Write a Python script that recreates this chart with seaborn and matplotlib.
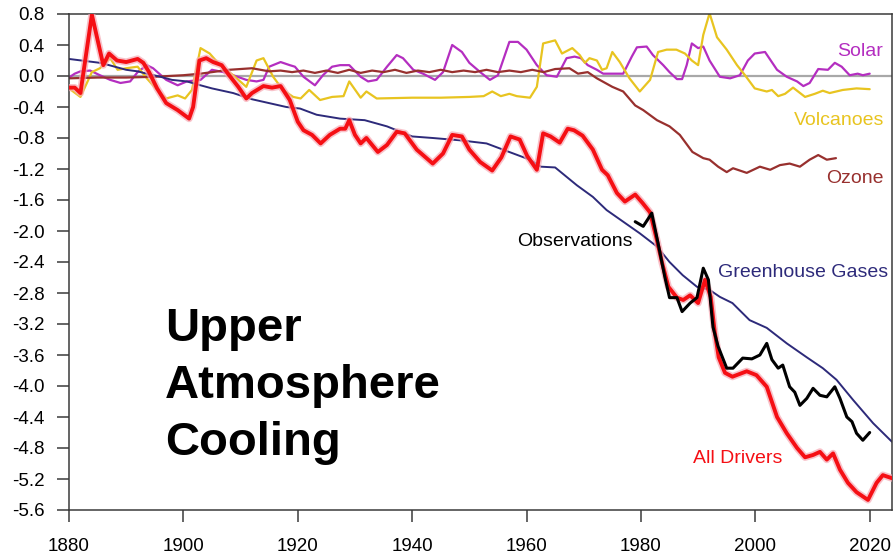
import numpy as np
import pandas as pd
import matplotlib
matplotlib.use("Agg")
import matplotlib.pyplot as plt
import seaborn as sns

# ---------------- data ----------------
all_years = [1880, 1881, 1882, 1884, 1886, 1887, 1888.4, 1890, 1892, 1893, 1894, 1895.4, 1897, 1899,
             1901, 1901.7, 1902.8, 1904, 1905.2, 1906.7, 1908, 1909.6, 1911, 1912, 1914, 1915.5, 1917,
             1918.6, 1920, 1921, 1922.5, 1924, 1925.6, 1927.4, 1928.3, 1929, 1930, 1931, 1932, 1934,
             1935.6, 1937.3, 1938.7, 1940.8, 1943.6, 1945.4, 1947, 1948.7, 1950, 1951.9, 1954, 1955.6,
             1957.2, 1958.8, 1960.1, 1961.8, 1962.9, 1964.2, 1965.8, 1967.2, 1968.3, 1969.8, 1971.6,
             1973.2, 1974.2, 1975.8, 1977.2, 1979, 1980.3, 1981.6, 1982.8, 1983.7, 1984.8, 1986.3,
             1987.4, 1988.6, 1990, 1991.2, 1992.2, 1992.9, 1993.6, 1994.7, 1996, 1998.5, 2000.2, 2002,
             2003.8, 2005.5, 2007.3, 2008.7, 2010.1, 2011.3, 2012.5, 2013.6, 2014.8, 2016.2, 2017.7,
             2019.7, 2021.2, 2022.3, 2023.9]
all_drivers = [-0.15, -0.15, -0.22, 0.79, 0.14, 0.29, 0.20, 0.18, 0.22, 0.17, 0.05, -0.16, -0.35, -0.44,
               -0.55, -0.40, 0.20, 0.23, 0.18, 0.14, 0.01, -0.14, -0.29, -0.22, -0.13, -0.15, -0.13,
               -0.31, -0.59, -0.70, -0.76, -0.87, -0.76, -0.68, -0.68, -0.57, -0.76, -0.87, -0.80, -0.98,
               -0.89, -0.72, -0.74, -0.95, -1.13, -1.00, -0.76, -0.78, -0.95, -1.11, -1.22, -1.05,
               -0.78, -0.82, -1.03, -1.21, -0.74, -0.78, -0.86, -0.68, -0.70, -0.77, -0.95,
               -1.21, -1.28, -1.51, -1.62, -1.53, -1.64, -1.76, -2.12, -2.41, -2.72, -2.86,
               -2.89, -2.83, -2.93, -2.63, -2.85, -3.30, -3.63, -3.83, -3.88, -3.81, -3.86, -4.01,
               -4.40, -4.61, -4.80, -4.92, -4.89, -4.85, -4.95, -4.87, -5.08, -5.25, -5.37,
               -5.47, -5.25, -5.15, -5.19]

obs_years = [1979, 1980.4, 1981.9, 1983, 1984.2, 1985, 1986.3, 1987.2, 1988.6, 1989.8, 1990.9, 1991.8,
             1992.6, 1993.5, 1995, 1996.1, 1997.8, 1999.4, 2000.8, 2002, 2002.9, 2004, 2004.8, 2006,
             2006.9, 2007.8, 2009, 2010.1, 2011.3, 2012.5, 2013.9, 2014.8, 2016, 2016.9, 2017.7,
             2018.8, 2020]
observations = [-1.88, -1.94, -1.77, -2.16, -2.60, -2.86, -2.86, -3.04, -2.93, -2.86, -2.48, -2.63,
                -3.24, -3.49, -3.77, -3.77, -3.64, -3.65, -3.60, -3.45, -3.66, -3.77, -3.73, -4.01,
                -4.08, -4.25, -4.16, -4.03, -4.12, -4.14, -4.01, -4.16, -4.40, -4.46, -4.61,
                -4.70, -4.60]

ghg_years = [1880, 1885.4, 1887, 1890, 1892, 1893.6, 1896, 1898, 1900.6, 1903, 1905, 1908.7, 1912, 1915,
             1918, 1920.4, 1923.3, 1927.4, 1931.7, 1935.6, 1940, 1943.6, 1948.4, 1953, 1956.6, 1960.6,
             1962.5, 1965, 1968.8, 1971.6, 1974, 1976.9, 1979.8, 1982.8, 1985, 1987.3, 1989.8, 1992,
             1993.8, 1996, 1999, 2002, 2005.5, 2009, 2011.8, 2014.2, 2017.1, 2020.6, 2023.9]
greenhouse = [0.22, 0.17, 0.14, 0.08, 0.06, 0.03, -0.01, -0.05, -0.07, -0.12, -0.16, -0.22, -0.30, -0.35,
              -0.40, -0.42, -0.50, -0.55, -0.57, -0.65, -0.78, -0.80, -0.83, -0.87, -0.97, -1.08,
              -1.17, -1.18, -1.41, -1.56, -1.73, -1.88, -2.03, -2.20, -2.40, -2.57, -2.72, -2.76,
              -2.85, -2.93, -3.15, -3.25, -3.45, -3.63, -3.77, -3.92, -4.18, -4.48, -4.72]

ozone_years = [1880, 1885, 1890, 1895, 1900, 1903, 1906, 1908, 1910, 1912, 1915, 1917, 1919, 1921, 1923,
               1925, 1927, 1929, 1931, 1933, 1935, 1937, 1939, 1941, 1943, 1945, 1947, 1949, 1951, 1953,
               1955, 1957, 1959, 1961, 1963, 1965, 1967.5, 1969, 1970.7, 1972.3, 1975, 1976.9, 1979,
               1980.4, 1982.8, 1985, 1986.8, 1989, 1990.9, 1992, 1993.5, 1995, 1996.1, 1998.5, 2000.8,
               2002.6, 2004.3, 2006, 2007.8, 2009.5, 2011, 2012.5, 2014.1]
ozone = [-0.03, -0.02, -0.02, -0.01, 0.01, 0.03, 0.06, 0.08, 0.09, 0.10, 0.06, 0.07, 0.05, 0.07, 0.04,
         0.07, 0.04, 0.08, 0.04, 0.07, 0.05, 0.08, 0.04, 0.07, 0.05, 0.08, 0.05, 0.07, 0.05, 0.08,
         0.05, 0.07, 0.05, 0.08, 0.05, 0.09, 0.10, 0.03, 0.05, -0.03, -0.14, -0.20, -0.38,
         -0.44, -0.57, -0.65, -0.76, -0.98, -1.06, -1.08, -1.17, -1.24, -1.19, -1.25, -1.17,
         -1.21, -1.15, -1.13, -1.17, -1.08, -1.02, -1.08, -1.06]

volc_years = [1880, 1882, 1884, 1885.4, 1887.2, 1888.5, 1890, 1892, 1893.6, 1895.4, 1897, 1899, 1900.3,
              1901.5, 1903, 1904.6, 1906.4, 1908.7, 1911, 1912.8, 1914, 1915.7, 1917.4, 1919.2, 1920.5,
              1922, 1923.9, 1926, 1928, 1929, 1931, 1932, 1933.8, 1940, 1945, 1950, 1952.5, 1954,
              1955.5, 1957, 1958.3, 1960.6, 1961.8, 1962.9, 1965, 1966.2, 1968, 1969.3, 1970.2, 1971,
              1972.3, 1973.2, 1974, 1975, 1976.3, 1978, 1979.8, 1981.6, 1983, 1984.5, 1986.2, 1987.7,
              1988.9, 1990, 1990.9, 1992, 1993.3, 1995, 1996.8, 1998.2, 1999.9, 2002, 2002.9, 2004,
              2005.2, 2006.6, 2008.7, 2010.4, 2011.8, 2013, 2015.3, 2017.7, 2020]
volcanoes = [-0.16, -0.27, 0.05, 0.10, 0.23, 0.08, 0.10, 0.12, -0.03, -0.18, -0.29, -0.25, -0.29,
             -0.18, 0.36, 0.29, 0.14, 0.01, -0.14, 0.20, 0.23, -0.01, -0.18, -0.27, -0.29,
             -0.18, -0.31, -0.27, -0.26, -0.07, -0.28, -0.20, -0.29, -0.28, -0.28, -0.27, -0.26, -0.20,
             -0.26, -0.23, -0.26, -0.28, -0.14, 0.42, 0.46, 0.29, 0.36, 0.27, 0.17, 0.23,
             0.20, 0.08, 0.10, 0.31, 0.18, -0.03, -0.20, -0.05, 0.31, 0.34, 0.34, 0.29,
             0.20, 0.14, 0.53, 0.81, 0.50, 0.34, 0.14, 0.01, -0.16, -0.20, -0.18, -0.26,
             -0.23, -0.15, -0.27, -0.23, -0.19, -0.22, -0.18, -0.16, -0.17]

solar_years = [1880, 1881, 1882, 1883.7, 1885.4, 1887.2, 1889, 1890.7, 1892, 1893.6, 1894.7, 1897, 1899,
               1900.6, 1903, 1905, 1907, 1908.7, 1911, 1912.8, 1914, 1915, 1917, 1918.6, 1919.5, 1921,
               1923, 1924.4, 1926, 1927.4, 1929, 1931, 1932.3, 1933.8, 1935.6, 1937.3, 1938.4, 1940.2,
               1941.9, 1944, 1945.4, 1947, 1948.7, 1950, 1951.9, 1953.6, 1955, 1957, 1958.5, 1960,
               1961.8, 1963.5, 1965.3, 1967, 1968.4, 1969.5, 1970.7, 1972.3, 1973.4, 1976.9, 1978.4,
               1979.3, 1981, 1982.1, 1983.9, 1985, 1986.3, 1987.2, 1988, 1988.9, 1990, 1990.9, 1992,
               1993.8, 1995.6, 1997.3, 1998.7, 1999.9, 2001.7, 2003.8, 2005.5, 2007.3, 2008.4, 2009.5,
               2011, 2012.7, 2013.9, 2015.1, 2016.5, 2017.9, 2018.8, 2020]
solar = [-0.02, 0.03, 0.06, 0.07, 0.01, -0.05, -0.09, -0.07, 0.05, 0.14, 0.10, -0.05, -0.12,
         -0.07, -0.05, 0.08, 0.05, 0.01, -0.05, -0.07, -0.05, 0.12, 0.18, 0.14, 0.12, -0.01,
         -0.12, 0.01, 0.12, 0.14, 0.14, -0.01, -0.07, -0.05, 0.12, 0.27, 0.23, 0.08,
         0.03, -0.05, 0.05, 0.40, 0.31, 0.17, 0.05, -0.05, 0.01, 0.44, 0.44, 0.34,
         0.14, 0.01, -0.01, 0.23, 0.25, 0.23, 0.14, 0.08, 0.03, 0.03, 0.25,
         0.37, 0.38, 0.27, 0.14, 0.05, -0.04, -0.04, 0.14, 0.42, 0.36, 0.38, 0.20,
         -0.01, -0.03, 0.01, 0.20, 0.29, 0.31, 0.08, -0.01, -0.07, -0.13, -0.09,
         0.09, 0.08, 0.17, 0.12, 0.01, 0.03, 0.01, 0.03]

x_ticks = [1880, 1900, 1920, 1940, 1960, 1980, 2000, 2020]
y_ticks = [0.8, 0.4, 0.0, -0.4, -0.8, -1.2, -1.6, -2.0, -2.4, -2.8, -3.2, -3.6, -4.0, -4.4, -4.8, -5.2, -5.6]
y_tick_labels = [f"{v:.1f}" for v in y_ticks]

title_lines = ["Upper", "Atmosphere", "Cooling"]

# ---------------- styling ----------------
sns.set_theme(style="ticks")
plt.rcParams["font.family"] = ["Liberation Sans", "DejaVu Sans"]

C_RED = "#f50f14"
C_PINK = "#f6a9b4"
C_NAVY = "#2d2a7a"
C_BROWN = "#98302e"
C_GOLD = "#e8c420"
C_MAG = "#b42ec0"
C_GRAY = "#a8a8a8"

fig = plt.figure(figsize=(8.94, 5.58), dpi=100)
ax = fig.add_axes([69 / 894, 48 / 558, (892 - 69) / 894, (510 - 14) / 558])

ax.axhline(0.0, color=C_GRAY, lw=1.6, zorder=1)

def draw(xs, ys, color, lw, z, alpha=1.0):
    df = pd.DataFrame({"year": xs, "value": ys})
    sns.lineplot(data=df, x="year", y="value", ax=ax, color=color, lw=lw,
                 alpha=alpha, zorder=z, estimator=None, sort=False,
                 solid_joinstyle="round", solid_capstyle="round")

draw(solar_years, solar, C_MAG, 1.6, 2)
draw(volc_years, volcanoes, C_GOLD, 1.6, 2)
draw(ozone_years, ozone, C_BROWN, 1.6, 2)
draw(ghg_years, greenhouse, C_NAVY, 1.4, 2)
draw(all_years, all_drivers, C_PINK, 5.2, 3, alpha=0.7)
draw(all_years, all_drivers, C_RED, 2.8, 4)
draw(obs_years, observations, "black", 2.2, 5)

ax.set_xlim(1880, 2023.9)
ax.set_ylim(-5.6, 0.8)
ax.set_xticks(x_ticks)
ax.set_xticklabels([str(v) for v in x_ticks])
ax.set_yticks(y_ticks)
ax.set_yticklabels(y_tick_labels)
ax.set_xlabel("")
ax.set_ylabel("")

for s in ax.spines.values():
    s.set_visible(True)
    s.set_color("#3a3a3a")
    s.set_linewidth(1.1)

ax.tick_params(axis="both", direction="out", length=8.5, width=1.1, color="#3a3a3a",
               labelcolor="black", labelsize=13.5)
ax.tick_params(axis="x", pad=12)
ax.tick_params(axis="y", pad=9)

# series labels
lbl = dict(fontsize=14, va="baseline", ha="left")
ax.text(2014.3, 0.26, "Solar", color=C_MAG, **lbl)
ax.text(2006.7, -0.63, "Volcanoes", color=C_GOLD, **lbl)
ax.text(2012.3, -1.38, "Ozone", color=C_BROWN, **lbl)
ax.text(1958.3, -2.19, "Observations", color="black", **lbl)
ax.text(1993.5, -2.59, "Greenhouse Gases", color=C_NAVY, **lbl)
ax.text(1989.1, -4.99, "All Drivers", color=C_RED, **lbl)

# big title text
for line, yv in zip(title_lines, [-3.42, -4.15, -4.89]):
    ax.text(1896.8, yv, line, fontsize=34, fontweight="bold", color="black",
            va="baseline", ha="left")

fig.savefig("out.png", dpi=100)
